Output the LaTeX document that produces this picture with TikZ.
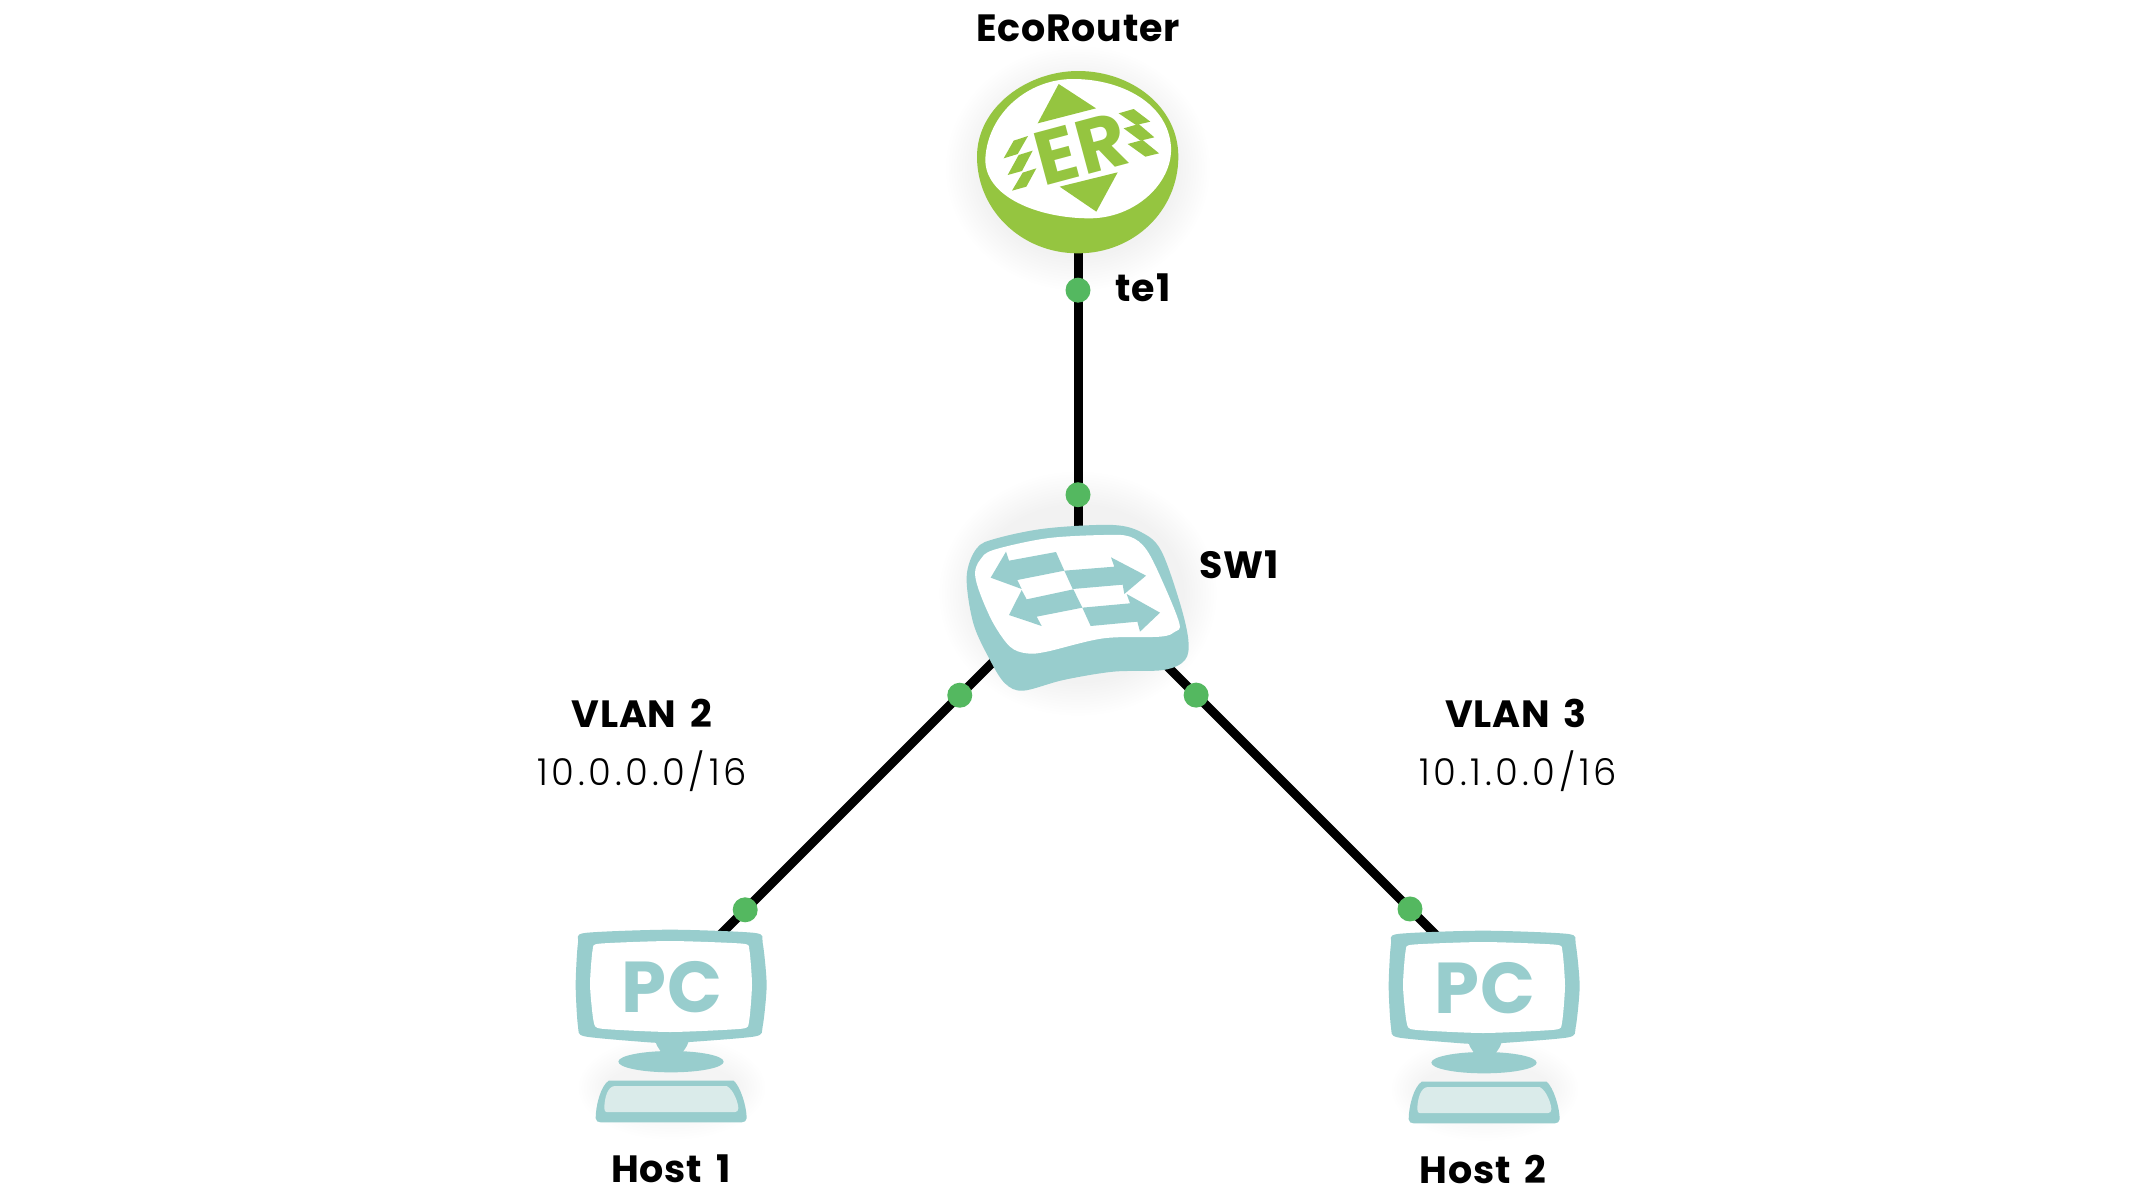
\documentclass[tikz,border=0pt]{standalone}
\usepackage{fontspec}
\setmainfont{Poppins}[LetterSpace=2,WordSpace=1.6]
\newfontfamily\thinfont{Poppins Light}[LetterSpace=10]
\definecolor{leaf}{RGB}{149,197,64}
\definecolor{teal}{RGB}{152,205,205}
\definecolor{palesea}{RGB}{218,235,234}
\definecolor{portgreen}{RGB}{84,184,96}
\tikzset{
	link/.style={line width=9pt,black},
	port/.style={circle,fill=portgreen,inner sep=0pt,minimum size=25pt},
	device/.style={inner sep=0pt,minimum size=0pt},
	boldname/.style={font=\fontsize{38}{40}\bfseries\selectfont,inner sep=0pt},
	thinname/.style={font=\thinfont\fontsize{37}{40}\selectfont,inner sep=0pt},
	pics/routershade/.style={code={
		\begin{scope}[scale=1/3]
			\foreach \g in {0,8,...,96}
				\fill[black,opacity=.0035] (0,25) ellipse ({300+\g} and {270+\g});
		\end{scope}
	}},
	pics/switchshade/.style={code={
		\begin{scope}[scale=1/3]
			\foreach \g in {0,8,...,96}
				\fill[black,opacity=.0035] (0,50) ellipse ({320+\g} and {270+\g});
		\end{scope}
	}},
	pics/hostshade/.style={code={
		\begin{scope}[scale=1/3]
			\foreach \g in {0,8,...,80}
				\fill[black,opacity=.0035] (0,315) ellipse ({200+\g} and {75+\g});
		\end{scope}
	}},
	pics/routericon/.style={code={
		\begin{scope}[scale=1/3]
			\fill[leaf] (-303,-10) .. controls (-303,-160) and (-150,-267) .. (0,-267)
				.. controls (160,-267) and (301,-160) .. (301,-10)
				.. controls (301,150) and (170,280) .. (0,280)
				.. controls (-170,280) and (-303,150) .. (-303,-10);
			\fill[white] (-278,-5) .. controls (-270,-140) and (-150,-243) .. (-15,-243)
				.. controls (130,-243) and (270,-170) .. (279,-40)
				.. controls (285,70) and (170,175) .. (35,175)
				.. controls (-120,175) and (-282,110) .. (-278,-5);
			\fill[leaf] (-58,-228) -- (54,-155) -- (-121,-110) -- cycle;
			\fill[leaf] (-55,80) -- (119,37) -- (55,155) -- cycle;
			\node[rotate=15,inner sep=0pt,text=leaf,font=\fontsize{76}{76}\bfseries\selectfont] (routerlogo) at (9,-35) {ER};
			\fill[leaf] (-193,-58) -- (-150,-72) -- (-181,-18) -- (-223,-5) -- cycle;
			\fill[leaf] (-178,-15) -- (-136,-28) -- (-168,33) -- (-211,45) -- cycle;
			\fill[leaf] (-166,38) -- (-125,25) -- (-155,80) -- (-198,92) -- cycle;
			\fill[leaf] (122,-140) -- (167,-153) -- (217,-115) -- (174,-105) -- cycle;
			\fill[leaf] (137,-95) -- (182,-108) -- (229,-68) -- (187,-58) -- cycle;
			\fill[leaf] (149,-48) -- (194,-60) -- (243,-20) -- (202,-10) -- cycle;
		\end{scope}
	}},
	pics/switchicon/.style={code={
		\begin{scope}[scale=1/3]
			\fill[teal] plot[smooth cycle,tension=.55] coordinates {(-334,-1) (-304,-86) (-244,-116) (-94,-146) (106,-156) (196,-131) (251,-76) (306,79) (331,189) (321,249) (256,279) (106,284) (-44,309) (-164,341) (-219,319) (-264,249) (-314,139)};
			\fill[white] plot[smooth cycle,tension=.55] coordinates {(-309,-11) (-294,-51) (-254,-81) (-94,-116) (76,-126) (156,-121) (206,-81) (256,19) (304,139) (291,164) (246,179) (76,184) (-94,224) (-154,229) (-204,209) (-254,139) (-294,49)};
			\fill[teal] (-262,2) -- (-216,-76) -- (-207,-49) -- (-66,-75) -- (-41,-19) -- (-182,9) -- (-169,36) -- cycle;
			\fill[teal] (-41,-19) -- (109,-31) -- (99,-59) -- (204,-4) -- (139,51) -- (134,23) -- (-16,36) -- cycle;
			\fill[teal] (-207,114) -- (-169,39) -- (-154,67) -- (-14,37) -- (13,92) -- (-124,119) -- (-109,147) -- cycle;
			\fill[teal] (13,92) -- (156,79) -- (146,51) -- (246,107) -- (186,164) -- (178,134) -- (38,147) -- cycle;
		\end{scope}
	}},
	pics/hosticon/.style={code={
		\begin{scope}[scale=1/3]
			\fill[teal] plot[smooth cycle,tension=.4] coordinates {(-289,6) (-282,-120) (-262,-150) (-6,-160) (250,-150) (272,-120) (284,6) (272,130) (250,160) (40,178) (-6,180) (-70,178) (-262,160) (-282,130)};
			\fill[teal] (-50,175) -- (50,175) .. controls (45,195) and (30,205) .. (30,215) -- (-30,215) .. controls (-30,205) and (-45,195) .. (-50,175) -- cycle;
			\fill[teal] (-3,236) ellipse (158 and 32);
			\fill[white] plot[smooth cycle,tension=.35] coordinates {(-246,6) (-238,-100) (-218,-118) (-6,-126) (212,-118) (232,-100) (240,6) (231,116) (210,137) (-6,147) (-212,137) (-235,116)};
			\node[inner sep=0pt,text=teal,font=\fontsize{72}{72}\bfseries\selectfont] (pclogo) at (0,12) {PC};
			\fill[teal] (-229,406) .. controls (-229,370) and (-215,310) .. (-190,293) -- (185,293)
				.. controls (205,310) and (224,370) .. (224,406)
				.. controls (224,414) and (216,418) .. (209,418) -- (-214,418)
				.. controls (-222,418) and (-229,414) .. (-229,406) -- cycle;
			\fill[palesea] (-203,376) .. controls (-203,350) and (-195,309) .. (-171,309) -- (164,309)
				.. controls (185,320) and (199,360) .. (199,376)
				.. controls (199,384) and (195,387) .. (189,387) -- (-196,387)
				.. controls (-200,387) and (-203,384) .. (-203,376) -- cycle;
		\end{scope}
	}}
}
\begin{document}
\begin{tikzpicture}[x=1pt,y=-1pt]
	\useasboundingbox (0,0) rectangle (2155,1199);
	\fill[white] (0,0) rectangle (2155,1199);
	% devices first, so the links can refer to them
	\node[device] (router) at (1078,160) {};
	\node[device] (sw1) at (1078,577) {};
	\node[device] (host1) at (672,983) {};
	\node[device] (host2) at (1485,984) {};
	\pic at (router) {routershade};
	\pic at (sw1) {switchshade};
	\pic at (host1) {hostshade};
	\pic at (host2) {hostshade};
	% links
	\draw[link] (router) -- node[port,pos=.312] (routerport) {} node[port,pos=.803] (swporttop) {} (sw1);
	\draw[link] (sw1) -- node[port,pos=.291] (swportleft) {} node[port,pos=.82] (hostaport) {} (host1);
	\draw[link] (sw1) -- node[port,pos=.29] (swportright) {} node[port,pos=.816] (hostbport) {} (host2);
	% icons
	\pic at (router) {routericon};
	\pic at (sw1) {switchicon};
	\pic at (host1) {hosticon};
	\pic at (host2) {hosticon};
	% names
	\node[boldname] (routername) at (1078,28) {EcoRouter};
	\node[boldname] (portname) at (1143,288) {te1};
	\node[boldname] (swname) at (1239,565) {SW1};
	\node[boldname] (vlana) at (642,713) {VLAN 2};
	\node[thinname] (neta) at (642,771) {10.0.0.0/16};
	\node[boldname] (vlanb) at (1516,713) {VLAN 3};
	\node[thinname] (netb) at (1518,771) {10.1.0.0/16};
	\node[boldname] (hostaname) at (671,1169) {Host 1};
	\node[boldname] (hostbname) at (1483,1169) {Host 2};
\end{tikzpicture}
\end{document}
